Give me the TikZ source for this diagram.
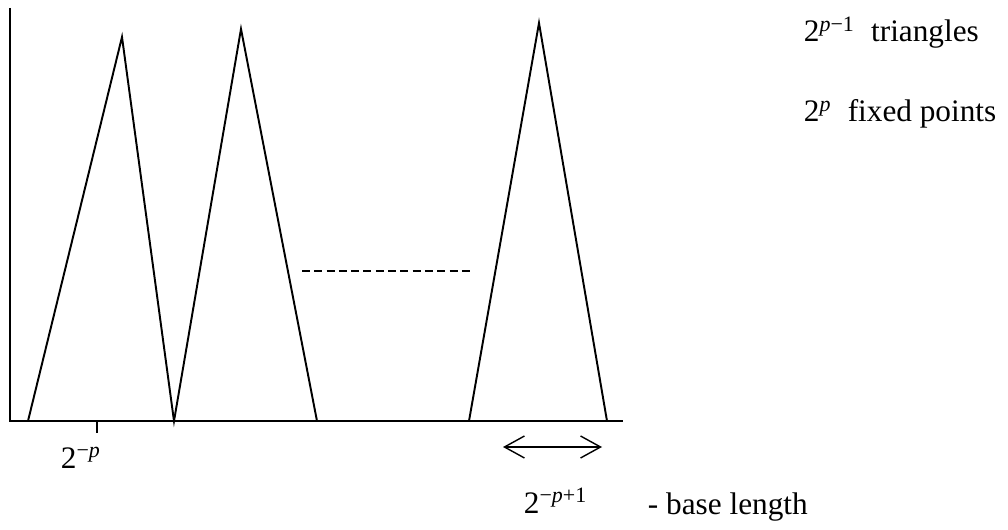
\documentclass[tikz,border=0pt]{standalone}
\usepackage{fontspec}
\setmainfont{Liberation Serif}
\usetikzlibrary{arrows.meta}
\newcommand{\upidx}[1]{\raisebox{0.32em}{\fontsize{12.5}{13}\selectfont #1}}

\begin{document}
\begin{tikzpicture}[x=0.02cm, y=-0.02cm, line width=1.1pt,
    lbl/.style={font=\fontsize{17.8}{20}\selectfont, inner sep=0pt, anchor=base west}]
    \useasboundingbox (0,0) rectangle (1008,530);
    % axes
    \coordinate (O) at (10,421);
    \coordinate (ytop) at (10,8);
    \coordinate (xend) at (623,421);
    \draw (ytop) -- (O) -- (xend);
    \coordinate (tk) at (97,421);
    \coordinate (tkb) at (97,433);
    \draw (tk) -- (tkb);
    % triangles
    \coordinate (l1) at (28,421);
    \coordinate (p1) at (122,37);
    \coordinate (r1) at (174,421);
    \coordinate (p2) at (241,29);
    \coordinate (r2) at (317,421);
    \coordinate (l3) at (469,421);
    \coordinate (p3) at (539,23);
    \coordinate (r3) at (607,421);
    \draw (l1) -- (p1) -- (r1) -- (p2) -- (r2);
    \draw (l3) -- (p3) -- (r3);
    \coordinate (d1) at (302,271);
    \coordinate (d2) at (472,271);
    \draw[dash pattern=on 0.16cm off 0.086cm] (d1) -- (d2);
    % base length arrow
    \coordinate (a1) at (503,447);
    \coordinate (a2) at (602,447);
    \draw[line width=0.8pt, {Straight Barb[length=0.4cm, width=0.44cm]}-{Straight Barb[length=0.4cm, width=0.44cm]}] (a1) -- (a2);
    % labels
    \node[lbl] (tick) at (60,468) {2\upidx{−\textit{p}}};
    \node[lbl] (blen) at (523,513) {2\upidx{−\textit{p}+1}};
    \node[lbl] (btext) at (647,514) {- base length};
    \node[lbl] (ntri) at (803,42) {2\upidx{\textit{p}−1}\hspace{0.55em}triangles};
    \node[lbl] (nfix) at (803,122) {2\upidx{\textit{p}}\hspace{0.55em}fixed points};
\end{tikzpicture}
\end{document}
